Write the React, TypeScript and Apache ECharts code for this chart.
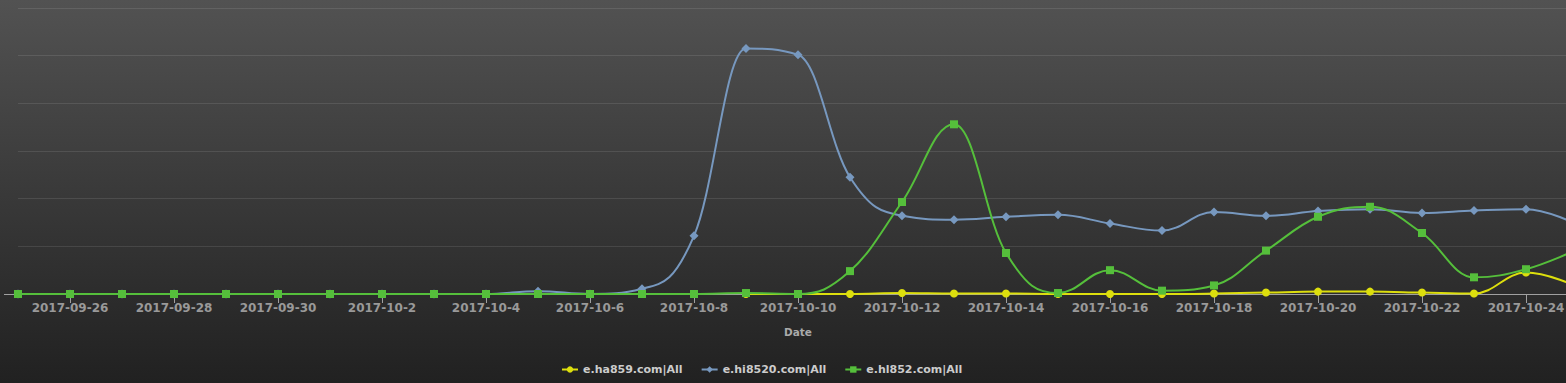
import React, { useEffect, useRef } from 'react';
import * as echarts from 'echarts';

const categories: string[] = [
  '2017-09-25', '2017-09-26', '2017-09-27', '2017-09-28', '2017-09-29', '2017-09-30',
  '2017-10-1', '2017-10-2', '2017-10-3', '2017-10-4', '2017-10-5', '2017-10-6',
  '2017-10-7', '2017-10-8', '2017-10-9', '2017-10-10', '2017-10-11', '2017-10-12',
  '2017-10-13', '2017-10-14', '2017-10-15', '2017-10-16', '2017-10-17', '2017-10-18',
  '2017-10-19', '2017-10-20', '2017-10-21', '2017-10-22', '2017-10-23', '2017-10-24',
  '2017-10-25',
];

const seriesNames = ['e.ha859.com|All', 'e.hi8520.com|All', 'e.hl852.com|All'];

const ha859: (number | null)[] = [
  null, null, null, null, null, null, null, null, null, null, null, null, null, null,
  0, 0, 0, 2, 1, 1, 0, 0, 0, 1, 3, 5, 5, 3, 1, 45, 15,
];

const hi8520: (number | null)[] = [
  0, 0, 0, 0, 0, 0, 0, 0, 0, 0,
  6, 0, 11, 122, 515, 502, 245, 164, 156, 162, 166, 148, 133, 172, 164, 174, 178, 170, 175, 178, 145,
];

const hl852: (number | null)[] = [
  0, 0, 0, 0, 0, 0, 0, 0, 0, 0, 0, 0, 0, 0,
  2, 0, 48, 193, 356, 86, 2, 50, 7, 18, 91, 162, 183, 128, 35, 52, 94,
];

const colors = ['#DDDF0D', '#7798BF', '#55BF3B'];
const symbols = ['circle', 'diamond', 'rect'];
const symbolSizes = [8, 9, 8];

// Highcharts-style spline path through pixel points (null breaks the line)
function splinePath(pts: (number[] | null)[]): string {
  const smoothing = 1.5;
  const denom = smoothing + 1;
  const rc: (number[] | null)[] = pts.map(() => null);
  let d = '';
  for (let i = 0; i < pts.length; i++) {
    const p = pts[i];
    if (!p) continue;
    const last = i > 0 ? pts[i - 1] : null;
    const next = i < pts.length - 1 ? pts[i + 1] : null;
    const [x, y] = p;
    let lcx = x, lcy = y;
    if (last && next) {
      const [lx, ly] = last;
      const [nx, ny] = next;
      lcx = (smoothing * x + lx) / denom;
      lcy = (smoothing * y + ly) / denom;
      const rcx = (smoothing * x + nx) / denom;
      let rcy = (smoothing * y + ny) / denom;
      let correction = 0;
      if (rcx !== lcx) {
        correction = ((rcy - lcy) * (rcx - x)) / (rcx - lcx) + y - rcy;
      }
      lcy += correction;
      rcy += correction;
      if (lcy > ly && lcy > y) {
        lcy = Math.max(ly, y);
        rcy = 2 * y - lcy;
      } else if (lcy < ly && lcy < y) {
        lcy = Math.min(ly, y);
        rcy = 2 * y - lcy;
      }
      if (rcy > ny && rcy > y) {
        rcy = Math.max(ny, y);
        lcy = 2 * y - rcy;
      } else if (rcy < ny && rcy < y) {
        rcy = Math.min(ny, y);
        lcy = 2 * y - rcy;
      }
      rc[i] = [rcx, rcy];
    }
    if (!last) {
      d += `M${x},${y}`;
    } else {
      const c1 = rc[i - 1] || last;
      d += `C${c1[0]},${c1[1]},${lcx},${lcy},${x},${y}`;
    }
  }
  return d;
}

export default function App() {
  const ref = useRef<HTMLDivElement>(null);

  useEffect(() => {
    if (!ref.current) return;
    const chart = echarts.init(ref.current, null, { renderer: 'svg' });
    const datasets = [ha859, hi8520, hl852];
    const series: any[] = [];
    seriesNames.forEach((name, k) => {
      series.push({
        name: name + ' spline',
        type: 'custom',
        coordinateSystem: 'cartesian2d',
        data: [[0, 0]],
        silent: true,
        renderItem: (_params: any, api: any) => {
          const pts = datasets[k].map((v, i) => (v == null ? null : api.coord([i, v])));
          return {
            type: 'path',
            shape: { pathData: splinePath(pts) },
            style: { fill: 'none', stroke: colors[k], lineWidth: 2 },
          };
        },
      });
      series.push({
        name,
        type: 'line',
        data: datasets[k],
        symbol: symbols[k],
        symbolSize: symbolSizes[k],
        showAllSymbol: true,
        lineStyle: { color: colors[k], width: 2, opacity: 0 },
        itemStyle: { color: colors[k], borderWidth: 0 },
      });
    });
    chart.setOption({
      animation: false,
      backgroundColor: 'transparent',
      grid: { left: 18, right: 0, top: 8, bottom: 89, containLabel: false },
      legend: {
        data: seriesNames.map((n, k) => ({
          name: n,
          lineStyle: { color: colors[k], width: 2, opacity: 1 },
        })),
        left: 561,
        top: 364,
        padding: 0,
        itemWidth: 16,
        itemHeight: 8,
        itemGap: 18,
        textStyle: { color: '#CCCCCC', fontWeight: 'bold', fontFamily: 'DejaVu Sans', fontSize: 11 },
      },
      xAxis: {
        type: 'category',
        data: categories,
        boundaryGap: false,
        name: 'Date',
        nameLocation: 'middle',
        nameGap: 32,
        nameTextStyle: { color: '#AAAAAA', fontWeight: 'bold', fontFamily: 'DejaVu Sans', fontSize: 10.5 },
        axisLine: { lineStyle: { color: '#A0A0A0', width: 1 } },
        axisTick: { length: 9, interval: (i: number) => i % 2 === 1, lineStyle: { color: '#A0A0A0' } },
        axisLabel: {
          interval: (i: number) => i % 2 === 1,
          color: '#999999',
          fontWeight: 'bold',
          fontFamily: 'DejaVu Sans',
          fontSize: 12,
          margin: 8,
        },
        splitLine: { show: false },
      },
      yAxis: {
        type: 'value',
        min: 0,
        max: 600,
        interval: 100,
        axisLabel: { show: false },
        axisLine: { show: false },
        axisTick: { show: false },
        splitLine: { lineStyle: { color: 'rgba(255,255,255,0.1)', width: 1 } },
      },
      graphic: [
        {
          type: 'line',
          shape: { x1: 4, y1: 294.5, x2: 18, y2: 294.5 },
          style: { stroke: '#A0A0A0', lineWidth: 1 },
          z: 1,
        },
      ],
      series,
    });
    return () => chart.dispose();
  }, []);

  return (
    <div
      ref={ref}
      style={{
        position: 'fixed',
        left: 0,
        top: 0,
        width: 1578,
        height: 383,
        background: 'linear-gradient(to bottom, #525252 0%, #212121 100%)',
      }}
    />
  );
}
